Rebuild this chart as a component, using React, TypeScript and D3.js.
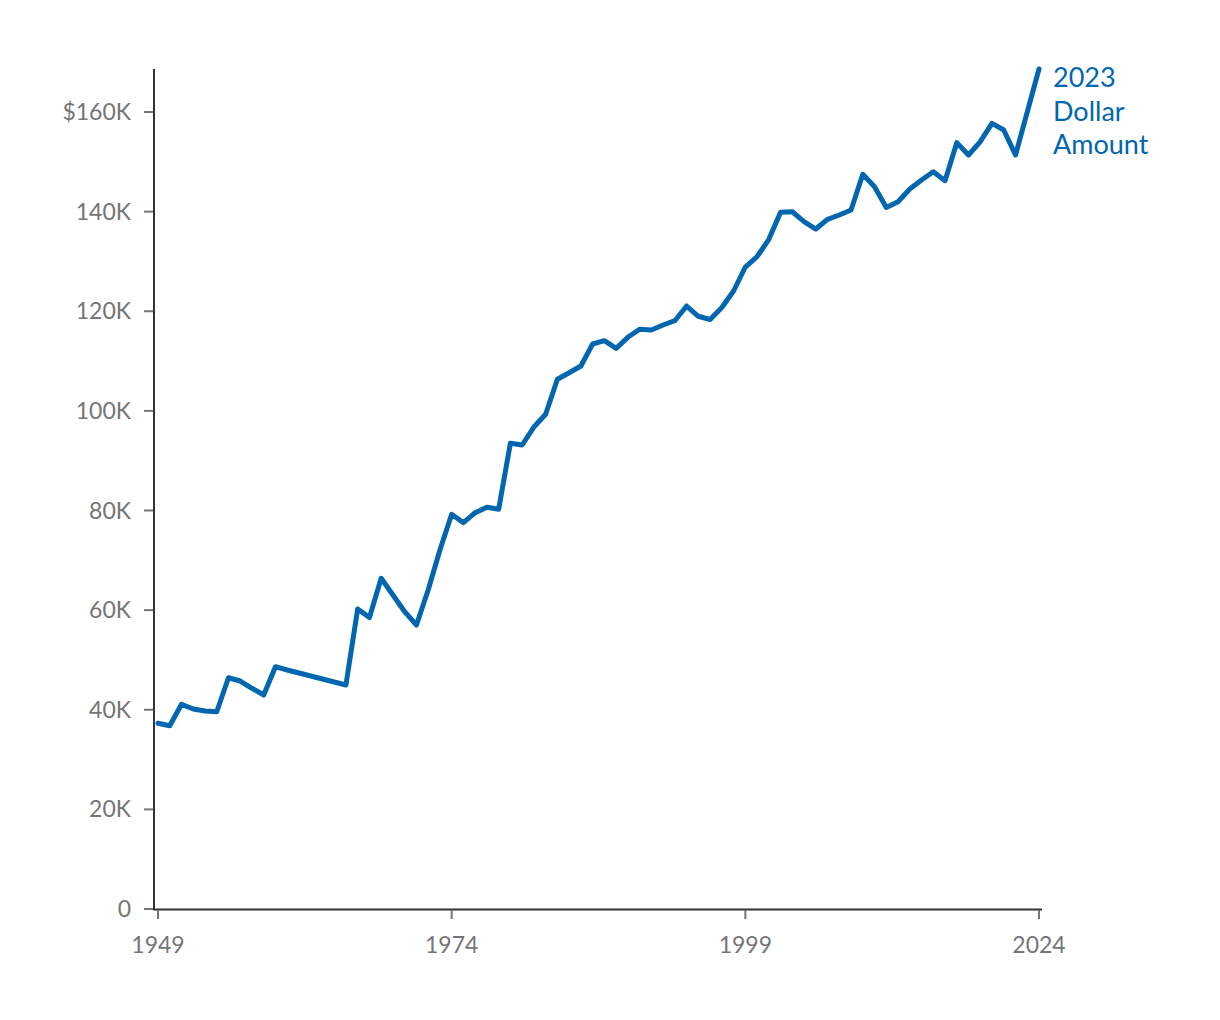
import React from "react";
import * as d3 from "d3";

const years = [1949,1950,1951,1952,1953,1954,1955,1956,1957,1958,1959,1960,1965,1966,1967,1968,1969,1970,1971,1972,1973,1974,1975,1976,1977,1978,1979,1980,1981,1982,1983,1984,1985,1986,1987,1988,1989,1990,1991,1992,1993,1994,1995,1996,1997,1998,1999,2000,2001,2002,2003,2004,2005,2006,2007,2008,2009,2010,2011,2012,2013,2014,2015,2016,2017,2018,2019,2020,2021,2022,2024];
const values = [37280,36800,41090,40150,39750,39610,46430,45770,44310,42960,48640,47980,44970,60230,58520,66390,63040,59680,57010,64040,72070,79240,77550,79560,80640,80240,93490,93150,96760,99310,106340,107660,109010,113430,114090,112560,114770,116380,116240,117240,118100,121050,118990,118340,120750,124070,128880,130950,134440,139860,139980,137980,136510,138460,139320,140330,147490,145000,140830,141990,144540,146350,148010,146210,153840,151370,154040,157730,156390,151370,168630];
const yTicks = [0,20000,40000,60000,80000,100000,120000,140000,160000];
const yTickLabels = ["0","20K","40K","60K","80K","100K","120K","140K","$160K"];
const xTicks = [1949,1974,1999,2024];
const seriesLabel = ["2023","Dollar","Amount"];

const BLUE = "#0066b0";
const GRAY = "#757575";
const FONT = "Lato, 'Open Sans', sans-serif";

export default function App() {
  const x = d3.scaleLinear().domain([1949, 2024]).range([158, 1039]);
  const y = d3.scaleLinear().domain([0, 160000]).range([909, 112]);
  const data = years.map((yr, i) => ({ yr, v: values[i] }));
  const line = d3.line<{ yr: number; v: number }>().x(d => x(d.yr)).y(d => y(d.v));
  const yMax = d3.max(values) as number;
  const last = data[data.length - 1];
  return (
    <svg width={1220} height={1020} style={{ position: "absolute", left: 0, top: 0, background: "#fff" }}>
      {/* y axis */}
      <line x1={154} x2={154} y1={y(yMax)} y2={910} stroke="#333" strokeWidth={2} />
      {yTicks.map((t, i) => (
        <g key={t}>
          <line x1={144} x2={153} y1={y(t)} y2={y(t)} stroke={GRAY} strokeWidth={2} />
          <text x={131} y={y(t)} dy="0.35em" textAnchor="end" fill={GRAY} fontFamily={FONT} fontSize={23}>{yTickLabels[i]}</text>
        </g>
      ))}
      {/* x axis */}
      <line x1={153} x2={1042} y1={909.5} y2={909.5} stroke="#333" strokeWidth={2} />
      {xTicks.map(t => (
        <g key={t}>
          <line x1={x(t)} x2={x(t)} y1={910} y2={919} stroke={GRAY} strokeWidth={2} />
          <text x={x(t)} y={953} textAnchor="middle" fill={GRAY} fontFamily={FONT} fontSize={23}>{t}</text>
        </g>
      ))}
      <path d={line(data) || ""} fill="none" stroke={BLUE} strokeWidth={5} strokeLinejoin="round" strokeLinecap="round" />
      <text x={x(last.yr) + 14} y={y(last.v) + 18} fill={BLUE} fontFamily={FONT} fontSize={27}>
        {seriesLabel.map((s, i) => (
          <tspan key={s} x={x(last.yr) + 14} dy={i === 0 ? 0 : 33.5}>{s}</tspan>
        ))}
      </text>
    </svg>
  );
}
